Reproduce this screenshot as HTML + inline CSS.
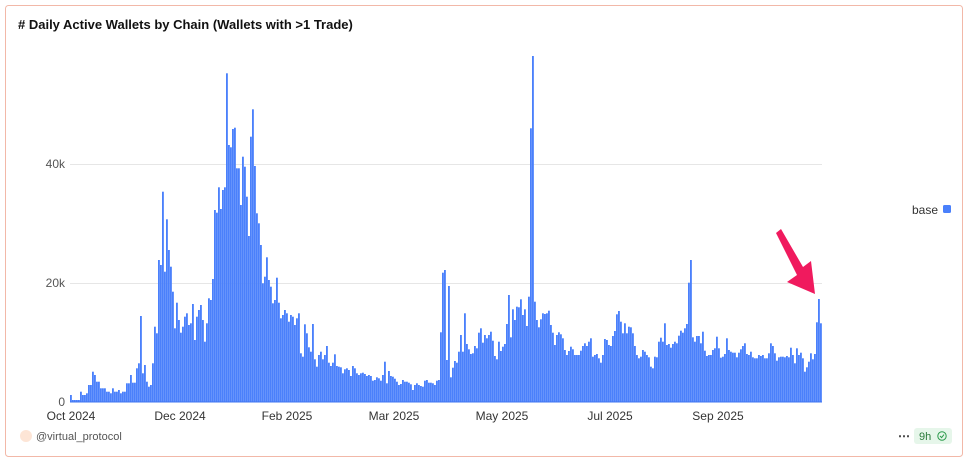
<!DOCTYPE html>
<html><head><meta charset="utf-8"><style>
body{margin:0;background:#fff;width:968px;height:462px;overflow:hidden;font-family:"Liberation Sans",sans-serif}
</style></head><body>
<svg id="s" width="968" height="462" xmlns="http://www.w3.org/2000/svg" font-family="Liberation Sans, sans-serif">
<rect x="5.5" y="5.5" width="957" height="451" rx="3" fill="#fff" stroke="#f2b8a8"/>
<text x="18" y="29" font-size="13" font-weight="bold" fill="#111"># Daily Active Wallets by Chain (Wallets with &gt;1 Trade)</text>
<line x1="70" x2="822" y1="164.5" y2="164.5" stroke="#e6e6e6"/>
<line x1="70" x2="822" y1="283.5" y2="283.5" stroke="#e6e6e6"/>
<g font-size="12" fill="#555" text-anchor="end">
<text x="65" y="168">40k</text><text x="65" y="287">20k</text><text x="65" y="406">0</text>
</g>
<g id="bars" fill="#4a80fb"></g>
<line x1="70" x2="822" y1="402" y2="402" stroke="#3f74f0" stroke-width="1"/>
<g font-size="12" fill="#333" text-anchor="middle">
<text x="71" y="420">Oct 2024</text><text x="180" y="420">Dec 2024</text><text x="287" y="420">Feb 2025</text>
<text x="394" y="420">Mar 2025</text><text x="502" y="420">May 2025</text><text x="610" y="420">Jul 2025</text><text x="718" y="420">Sep 2025</text>
</g>
<text x="938" y="214" font-size="12" fill="#333" text-anchor="end">base</text>
<rect x="943" y="205" width="8" height="8" rx="1.5" fill="#4a80fb"/>
<polygon points="776,233 781,229 803,267 811,261 815,294 787,282 797,275" fill="#f01a5e"/>
<circle cx="26" cy="436" r="6" fill="#fde5d6"/>
<text x="36" y="440" font-size="11" fill="#555">@virtual_protocol</text>
<text x="904" y="440" font-size="12" font-weight="bold" fill="#333" text-anchor="middle">⋯</text>
<rect x="914" y="428" width="38" height="16" rx="3" fill="#e6f6ea"/>
<text x="919" y="440" font-size="11" fill="#2a7a3a">9h</text>
<circle cx="942" cy="436" r="4.2" fill="none" stroke="#2a9a4a" stroke-width="1"/>
<polyline points="940,436 941.6,437.6 944,434.6" fill="none" stroke="#2a9a4a" stroke-width="1"/>
</svg>
<script>
var z1=[30,1005,40,1020,50,1020,60,1020,65,995,70,1005,80,1000,90,975,98,935,105,945,115,965,125,985,135,985,145,995,152,1000,160,985,168,995,175,990,182,1000,190,995,197,995,205,970,215,945,222,968,228,925,236,910,243,768,250,940,256,915,262,965,268,980,274,975,280,910,286,800,292,820,297,600,303,615,309,395,315,635,320,478,326,570,332,620,338,695,344,805,350,728,356,780,362,818,368,800,374,770,380,760,386,795,392,790,398,732,404,840,410,770,416,750,422,735,428,780,434,845,440,790,446,715,452,720,458,657,464,450,470,458,476,382,482,447,488,390,494,382,500,40,506,255,512,262,518,207,524,203,530,325,536,325,542,435,548,290,554,320,560,410,566,528,572,230,578,148,584,318,590,460,596,490,602,555,608,670,614,650,620,592,626,660,632,680,638,730,644,720,650,653,656,728,662,775,668,765,674,750,680,760,686,785,692,765,698,770,704,795,710,775,716,760,722,880,728,890,734,793,740,820,746,862,752,872,758,795,764,897,770,920,776,885];
var z2=[0,935,8,852,14,958,20,980,26,945,32,935,38,958,44,945,50,918,56,968,62,978,68,968,74,943,80,978,86,980,92,982,98,1000,104,988,110,985,116,990,122,1008,128,978,134,985,140,1000,146,1005,152,1000,158,998,164,1002,170,1008,176,1005,182,1008,188,1022,194,1020,200,1012,206,1015,212,1022,218,1005,224,965,230,1030,236,993,242,1008,248,1010,254,1016,260,1025,266,1035,272,1032,278,1020,284,1025,290,1025,296,1028,302,1033,308,1050,314,1035,320,1030,326,1035,332,1038,338,1040,344,1022,350,1020,356,1028,362,1028,368,1030,374,1035,380,1022,386,1020,392,877,398,698,404,690,410,960,416,738,422,1012,428,983,434,963,440,968,446,935,452,885,458,935,464,820,470,912,476,928,482,942,488,940,494,918,500,925,506,878,512,865,518,908,524,885,530,895,536,885,542,875,548,902,554,948,560,958,566,905,572,933,578,920,584,912,590,852,596,765,602,892,608,808,614,840,620,800,626,802,632,778,638,825,644,808,650,858,656,770,662,265,668,48,674,785,680,840,686,862,692,838,698,820,704,822,710,820,716,812,722,855,728,878,734,915,740,885,746,877,752,885,758,895,764,930,770,945,776,935];
var z3=[0,343,6,355,12,390,18,405,24,393,30,380,36,388,42,405,48,405,54,405,60,392,66,378,72,370,78,378,84,365,90,355,96,410,102,405,108,402,114,415,120,428,126,405,132,357,138,360,144,375,150,378,156,348,162,333,168,283,174,273,180,305,186,340,192,310,198,340,204,320,210,322,216,340,222,378,228,405,234,415,240,410,246,390,252,395,258,405,264,412,270,440,276,445,282,410,288,412,294,365,300,353,306,365,312,310,318,375,324,372,330,383,336,372,342,365,348,370,354,347,360,332,366,338,372,325,378,312,384,188,390,120,396,352,402,365,408,348,414,348,420,370,426,335,432,392,438,408,444,405,450,405,456,390,462,385,468,350,474,385,480,413,486,410,492,402,498,355,504,390,510,395,516,398,522,398,528,412,534,398,540,388,546,378,552,370,558,402,564,405,570,395,576,412,582,415,588,415,594,405,600,408,606,405,612,415,618,415,624,400,630,370,636,378,642,400,648,422,654,412,660,410,666,410,672,412,678,408,684,412,690,383,696,405,702,430,708,385,714,405,720,398,726,415,732,455,738,442,744,425,750,400,756,418,762,402,768,307,774,237,780,310];
var pts=[];
function add(a,ox,oy,lo,hi){for(var i=0;i<a.length;i+=2){var x=ox+a[i]/3,y=oy+a[i+1]/3;if(x>=lo&&x<hi)pts.push([x,y]);}}
add(z1,60,60,0,310);add(z2,310,40,310,560);add(z3,560,220,560,900);
pts.sort(function(a,b){return a[0]-b[0]});
var g=document.getElementById('bars'),h='';
for(var x=70;x<822;x+=2){var best=pts[0],d=1e9;for(var j=0;j<pts.length;j++){var dd=Math.abs(pts[j][0]-(x+1));if(dd<d){d=dd;best=pts[j];}}
var y=Math.min(best[1],401);h+='<rect x="'+x+'" y="'+y.toFixed(1)+'" width="1.85" height="'+(402-y).toFixed(1)+'"/>';}
g.innerHTML=h;
</script>
</body></html>
